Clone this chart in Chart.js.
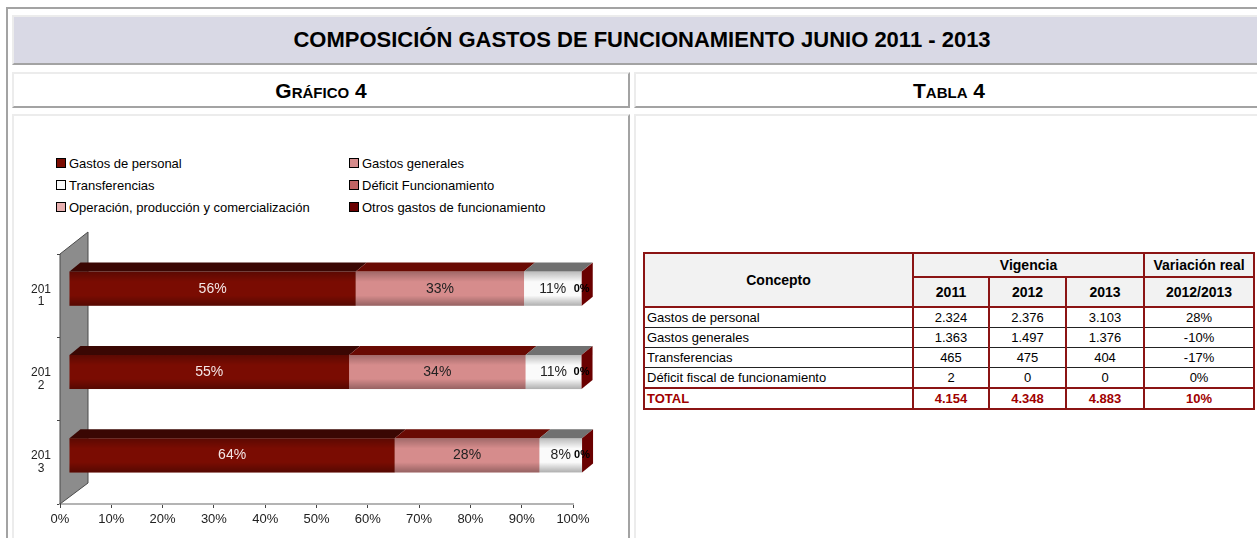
<!DOCTYPE html>
<html>
<head>
<meta charset="utf-8">
<script src="https://cdn.jsdelivr.net/npm/chart.js@4.4.0/dist/chart.umd.min.js"></script>
<style>
  body { margin: 0; width: 1257px; height: 538px; overflow: hidden; background: #fff; position: relative;
         font-family: 'Liberation Sans Narrow', 'Arial Narrow', Arial, sans-serif; color: #000; }
  .marco { position: absolute; left: 6px; top: 7px; width: 1270px; height: 560px; border-top: 2px solid #a3a3a3; border-left: 2px solid #a3a3a3; }
  .caja { position: absolute; box-sizing: border-box; border: 2px solid; border-color: #ececec #a3a3a3 #a3a3a3 #ececec; background: #fff; }
  .titulo { left: 12px; top: 15px; width: 1260px; height: 50px; background: #d9d9e5; text-align: center;
            font-weight: bold; font-size: 22px; line-height: 46px; }
  .sub { top: 72px; height: 36px; text-align: center; font-weight: bold; font-size: 21px; line-height: 34px; font-variant: small-caps; }
  .leyenda { position: absolute; font-size: 13px; line-height: 22px; }
  .leyenda span.cuadro { display: inline-block; width: 8px; height: 8px; border: 1px solid #000; margin-right: 3px; vertical-align: 0px; }
  canvas { position: absolute; left: 12px; top: 115px; }
  table { position: absolute; left: 643px; top: 252px; width: 610px; border-collapse: collapse; table-layout: fixed; font-size: 14px; }
  th { background: #f2f2f2; border: 2px solid #8b1414; font-weight: bold; padding: 0; }
  td { border-left: 2px solid #8b1414; border-right: 2px solid #8b1414; border-bottom: 1px solid #222; height: 19px; padding: 0 2px; text-align: center; white-space: nowrap; font-size: 13px; }
  td.c { text-align: left; }
  tr.tot td { color: #a00000; font-weight: bold; border-top: 2px solid #8b1414; border-bottom: 2px solid #8b1414; }
</style>
</head>
<body>
<div class="marco"></div>
<div class="caja titulo">COMPOSICIÓN GASTOS DE FUNCIONAMIENTO JUNIO 2011 - 2013</div>
<div class="caja sub" style="left:12px;width:618px;">Gráfico 4</div>
<div class="caja sub" style="left:634px;width:630px;">Tabla 4</div>
<div class="caja" style="left:12px;top:114px;width:618px;height:440px;"></div>
<div class="caja" style="left:634px;top:114px;width:630px;height:440px;"></div>
<div class="leyenda" id="ley1" style="left:56px;top:153px;"></div>
<div class="leyenda" id="ley2" style="left:349px;top:153px;"></div>
<canvas id="grafico" width="614" height="423"></canvas>
<table id="tabla"></table>

<script>
// datos del gráfico (participación %)
const categorias = ['2011', '2012', '2013'];
const gastosPersonal = [55.9, 54.6, 63.5];
const gastosGenerales = [32.8, 34.4, 28.2];
const transferencias = [11.2, 10.9, 8.3];
const deficitFuncionamiento = [0.05, 0.01, 0.01];
const operacionProduccion = [0, 0, 0];
const otrosGastos = [0, 0, 0];
const ticksX = [0, 10, 20, 30, 40, 50, 60, 70, 80, 90, 100];

// datos de la tabla (millones)
const conceptos = ['Gastos de personal', 'Gastos generales', 'Transferencias', 'Déficit fiscal de funcionamiento'];
const vigencia2011 = [2324, 1363, 465, 2];
const vigencia2012 = [2376, 1497, 475, 0];
const vigencia2013 = [3103, 1376, 404, 0];
const variacionReal = [28, -10, -17, 0];
const totales = [4154, 4348, 4883];
const variacionTotal = 10;

const series = [
  { nombre: 'Gastos de personal', datos: gastosPersonal, color: '#7a0c02', tope: '#3a0703', texto: '#f4e6e6' },
  { nombre: 'Gastos generales', datos: gastosGenerales, color: '#d68c8c', tope: '#690a03', texto: '#222' },
  { nombre: 'Transferencias', datos: transferencias, color: '#fafafa', tope: '#707070', texto: '#222' },
  { nombre: 'Déficit Funcionamiento', datos: deficitFuncionamiento, color: '#c06464', tope: '#5a0000', texto: '#000' },
  { nombre: 'Operación, producción y comercialización', datos: operacionProduccion, color: '#e8b0b0', tope: '#8a3a3a', texto: '#000' },
  { nombre: 'Otros gastos de funcionamiento', datos: otrosGastos, color: '#6a0000', tope: '#3a0000', texto: '#000' }
];

// leyenda en dos columnas
series.forEach((s, i) => {
  const div = document.getElementById(i % 2 === 0 ? 'ley1' : 'ley2');
  div.innerHTML += '<div><span class="cuadro" style="background:' + s.color + '"></span>' + s.nombre + '</div>';
});

// tabla
const fmt = n => String(n).replace(/\B(?=(\d{3})+(?!\d))/g, '.');
let html = '<colgroup><col style="width:269px"><col style="width:76px"><col style="width:77px"><col style="width:78px"><col style="width:110px"></colgroup>';
html += '<tr style="height:24px"><th rowspan="2">Concepto</th><th colspan="3">Vigencia</th><th>Variación real</th></tr>';
html += '<tr style="height:30px"><th>2011</th><th>2012</th><th>2013</th><th>2012/2013</th></tr>';
conceptos.forEach((c, i) => {
  html += '<tr><td class="c">' + c + '</td><td>' + fmt(vigencia2011[i]) + '</td><td>' + fmt(vigencia2012[i]) +
          '</td><td>' + fmt(vigencia2013[i]) + '</td><td>' + variacionReal[i] + '%</td></tr>';
});
html += '<tr class="tot"><td class="c">TOTAL</td><td>' + fmt(totales[0]) + '</td><td>' + fmt(totales[1]) +
        '</td><td>' + fmt(totales[2]) + '</td><td>' + variacionTotal + '%</td></tr>';
document.getElementById('tabla').innerHTML = html;

// efecto 3D: pared gris, caras superiores, cara lateral y etiquetas
const DX = 9, DY = -7, PX = 11, PY = 9;
const barras3d = {
  id: 'barras3d',
  beforeDatasetsDraw(chart) {
    const { ctx, chartArea: a } = chart;
    ctx.save();
    ctx.beginPath();
    ctx.moveTo(a.left, a.top);
    ctx.lineTo(a.left + 28, a.top - 22);
    ctx.lineTo(a.left + 28, a.bottom - 21);
    ctx.lineTo(a.left, a.bottom);
    ctx.closePath();
    ctx.fillStyle = '#8c8c8c';
    ctx.fill();
    ctx.strokeStyle = '#4a4a4a';
    ctx.lineWidth = 1;
    ctx.stroke();
    ctx.restore();
    ctx.save();
    ctx.translate(DX, DY);
  },
  afterDatasetsDraw(chart) {
    const ctx = chart.ctx;
    chart.data.labels.forEach((_, i) => {
      let fin = null, y0 = 0, y1 = 0;
      chart.data.datasets.forEach((ds, d) => {
        const el = chart.getDatasetMeta(d).data[i];
        y0 = el.y - el.height / 2; y1 = el.y + el.height / 2;
        fin = Math.max(fin === null ? el.x : fin, el.x);
        if (el.x - el.base < 0.5) return;
        const g = ctx.createLinearGradient(0, y0, 0, y1);
        g.addColorStop(0, 'rgba(0,0,0,0.25)');
        g.addColorStop(0.3, 'rgba(0,0,0,0)');
        g.addColorStop(0.7, 'rgba(0,0,0,0)');
        g.addColorStop(1, 'rgba(0,0,0,0.3)');
        ctx.fillStyle = g;
        ctx.fillRect(el.base, y0, el.x - el.base, y1 - y0);
        ctx.beginPath();
        ctx.moveTo(el.base, y0);
        ctx.lineTo(el.x, y0);
        ctx.lineTo(el.x + PX, y0 - PY);
        ctx.lineTo(el.base + PX, y0 - PY);
        ctx.closePath();
        ctx.fillStyle = series[d].tope;
        ctx.fill();
      });
      ctx.beginPath();
      ctx.moveTo(fin, y0);
      ctx.lineTo(fin + PX, y0 - PY);
      ctx.lineTo(fin + PX, y1 - PY);
      ctx.lineTo(fin, y1);
      ctx.closePath();
      ctx.fillStyle = '#6a0000';
      ctx.fill();
    });
    // etiquetas de datos
    ctx.textAlign = 'center';
    ctx.textBaseline = 'middle';
    chart.data.datasets.forEach((ds, d) => {
      if (d > 3) return;
      chart.getDatasetMeta(d).data.forEach((el, i) => {
        ctx.font = d === 3 ? 'bold 11px "Liberation Sans Narrow", "Arial Narrow", Arial' : '14px "Liberation Sans Narrow", "Arial Narrow", Arial';
        ctx.fillStyle = series[d].texto;
        ctx.fillText(Math.round(ds.data[i]) + '%', (el.x + el.base) / 2, el.y);
      });
    });
    ctx.restore();
  }
};

Chart.defaults.font.family = "'Liberation Sans Narrow', 'Arial Narrow', Arial, sans-serif";

new Chart(document.getElementById('grafico'), {
  type: 'bar',
  data: {
    labels: categorias,
    datasets: series.map(s => ({
      label: s.nombre,
      data: s.datos,
      backgroundColor: s.color,
      borderWidth: 0,
      barPercentage: 0.41,
      categoryPercentage: 1
    }))
  },
  options: {
    indexAxis: 'y',
    responsive: false,
    animation: false,
    layout: { padding: { top: 139, right: 53, bottom: 4, left: 0 } },
    plugins: { legend: { display: false }, tooltip: { enabled: false } },
    scales: {
      x: {
        stacked: true, min: 0, max: 100,
        afterFit: s => { s.height = 30; },
        afterBuildTicks: s => { s.ticks = ticksX.map(v => ({ value: v })); },
        ticks: { callback: v => v + '%', color: '#222', font: { size: 13 }, padding: 4, maxRotation: 0, autoSkip: false },
        grid: { drawOnChartArea: false, tickLength: 4, color: '#444' },
        border: { color: '#b4b4b4', width: 2 }
      },
      y: {
        stacked: true,
        afterFit: s => { s.width = 48; },
        ticks: {
          crossAlign: 'center', padding: 6, color: '#222', font: { size: 12, lineHeight: 1.05 },
          callback: (v, i) => [categorias[i].slice(0, 3), categorias[i].slice(3)]
        },
        grid: { drawOnChartArea: false, tickLength: 3, color: '#444', offset: true },
        border: { color: '#444', width: 1 }
      }
    }
  },
  plugins: [barras3d]
});
</script>
</body>
</html>
